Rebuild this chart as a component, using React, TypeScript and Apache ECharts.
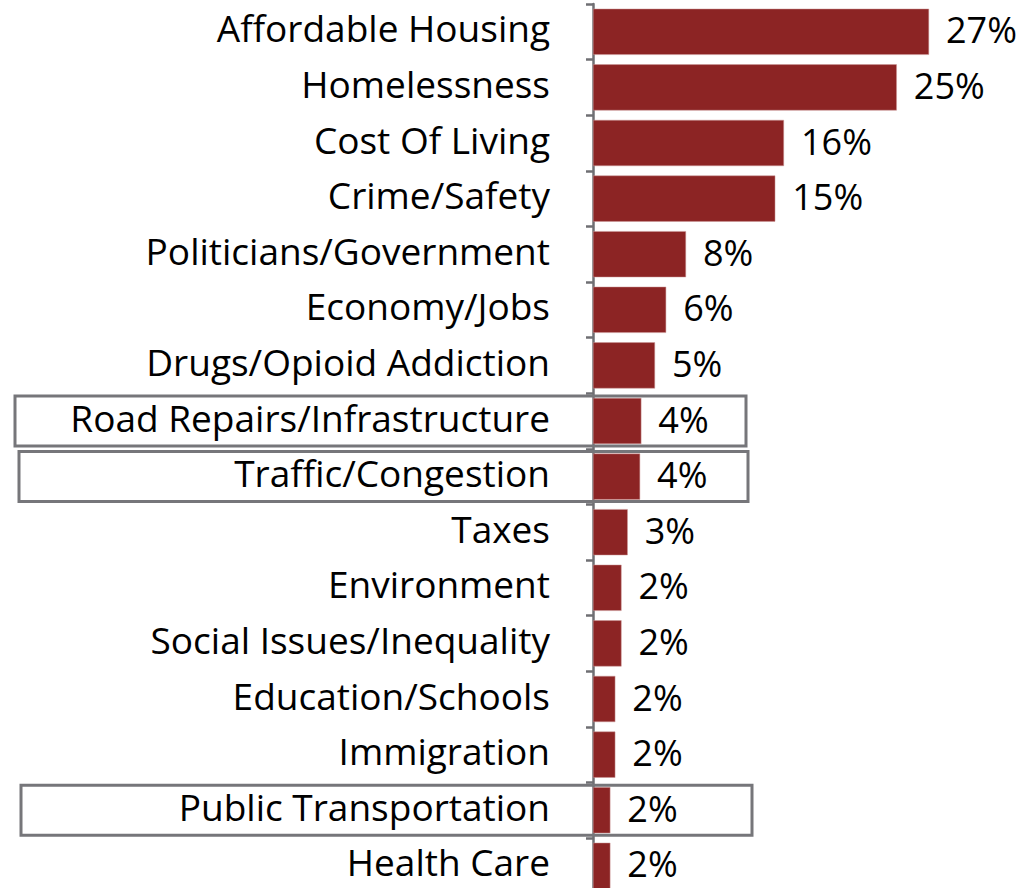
import React, { useEffect, useRef } from "react";
import * as echarts from "echarts";

const categories = [
  "Affordable Housing",
  "Homelessness",
  "Cost Of Living",
  "Crime/Safety",
  "Politicians/Government",
  "Economy/Jobs",
  "Drugs/Opioid Addiction",
  "Road Repairs/Infrastructure",
  "Traffic/Congestion",
  "Taxes",
  "Environment",
  "Social Issues/Inequality",
  "Education/Schools",
  "Immigration",
  "Public Transportation",
  "Health Care",
];
const values = [27.1, 24.5, 15.4, 14.7, 7.5, 5.9, 5.0, 3.9, 3.8, 2.8, 2.3, 2.3, 1.8, 1.8, 1.4, 1.4];
const valueLabels = ["27%", "25%", "16%", "15%", "8%", "6%", "5%", "4%", "4%", "3%", "2%", "2%", "2%", "2%", "2%", "2%"];
const highlighted = ["Road Repairs/Infrastructure", "Traffic/Congestion", "Public Transportation"];

const FONT = "Open Sans";

export default function App() {
  const ref = useRef<HTMLDivElement>(null);
  useEffect(() => {
    const el = ref.current;
    if (!el) return;
    const chart = echarts.init(el, null, { renderer: "svg" });
    chart.setOption({
      animation: false,
      grid: { left: 593, top: 4, width: 372, height: 889.6, containLabel: false },
      xAxis: {
        type: "value",
        min: 0,
        max: 30,
        show: false,
      },
      yAxis: {
        type: "category",
        inverse: true,
        data: categories,
        axisLine: { show: true, lineStyle: { color: "#6f6f73", width: 2.5 } },
        axisTick: { show: true, length: 7, lineStyle: { color: "#6f6f73", width: 2.5 } },
        axisLabel: {
          margin: 43,
          color: "#000",
          fontFamily: FONT,
          fontSize: 37,
          lineHeight: 30,
          formatter: (v: string) => `{t|${v}}`,
          rich: {
            t: {
              color: "#000",
              fontFamily: FONT,
              fontSize: 37,
              lineHeight: 30,
              padding: [0, 0, 8, 0],
            },
          },
        },
      },
      series: [
        {
          type: "bar",
          data: values,
          barCategoryGap: "17%",
          itemStyle: { color: "#8C2424", borderColor: "#c99", borderWidth: 0.5 },
          label: {
            show: true,
            position: "right",
            distance: 17,
            offset: [0, -2],
            color: "#000",
            fontFamily: FONT,
            fontSize: 36,
            lineHeight: 30,
            formatter: (p: any) => valueLabels[p.dataIndex],
          },
        },
      ],
    });
    const boxes = [
      { name: highlighted[0], x1: 15, x2: 746 },
      { name: highlighted[1], x1: 19, x2: 748 },
      { name: highlighted[2], x1: 21, x2: 752 },
    ];
    const graphics = boxes.map((b) => {
      const cy = chart.convertToPixel({ yAxisIndex: 0 }, b.name) as number;
      return {
        type: "rect",
        shape: { x: b.x1, y: cy - 25, width: b.x2 - b.x1, height: 50 },
        style: { fill: "none", stroke: "#76767a", lineWidth: 3 },
        z: 100,
      };
    });
    chart.setOption({ graphic: graphics });
    return () => chart.dispose();
  }, []);
  return (
    <div style={{ width: 1023, height: 888, position: "absolute", left: 0, top: 0, overflow: "hidden" }}>
      <div ref={ref} style={{ width: 1023, height: 900 }} />
    </div>
  );
}
